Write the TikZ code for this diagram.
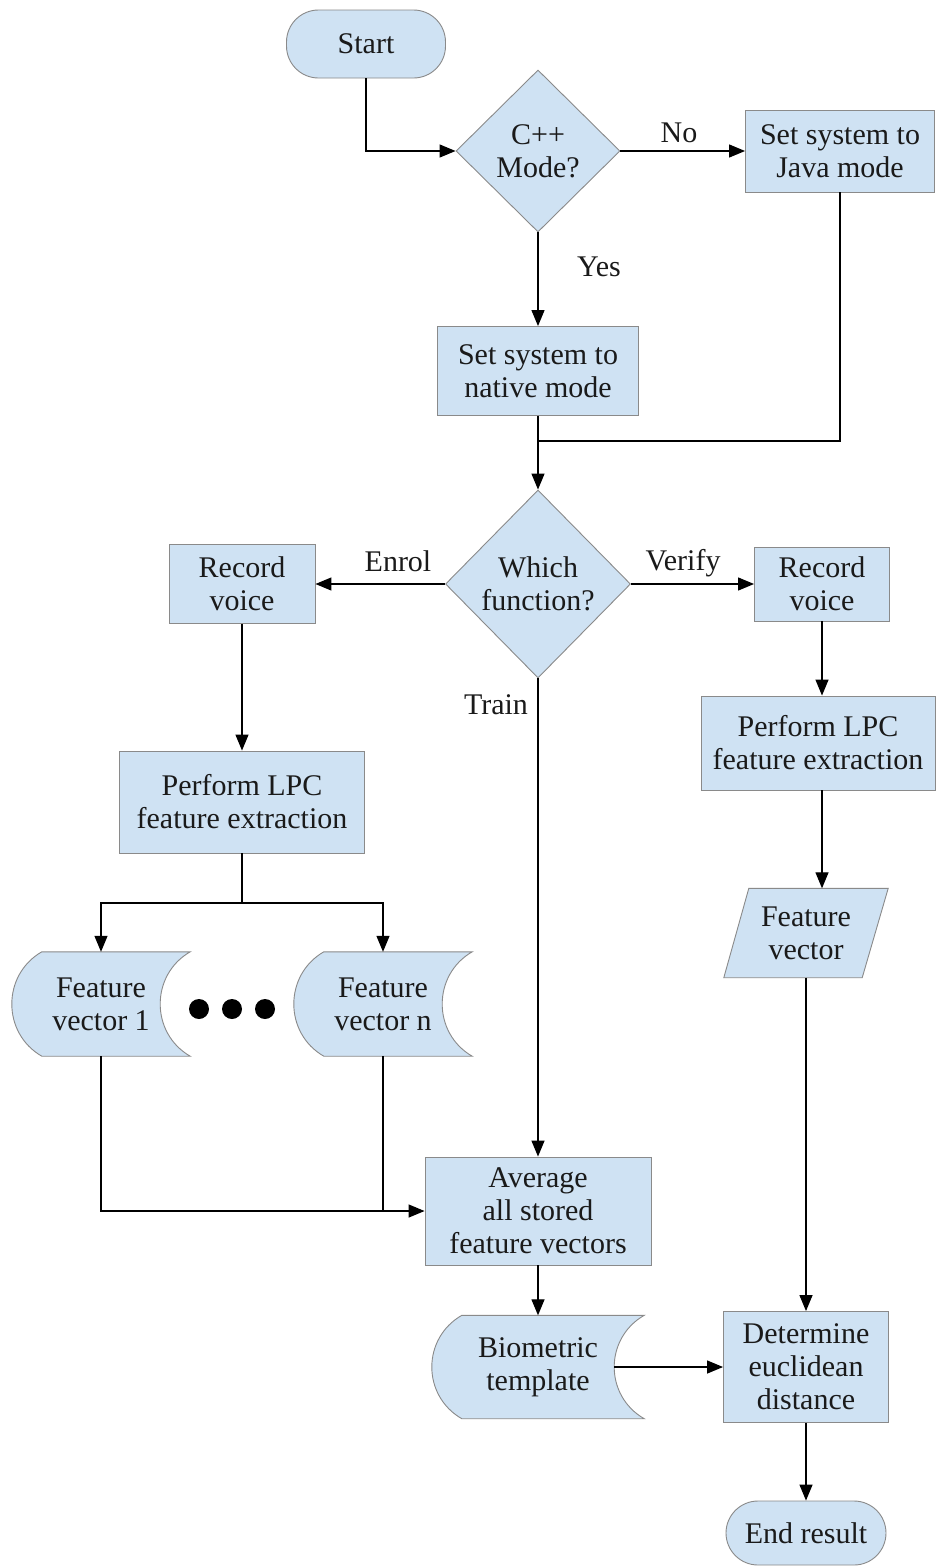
\documentclass[tikz,border=0pt]{standalone}
\usepackage{fontspec}
\setmainfont{Liberation Serif}
\usetikzlibrary{arrows.meta,shapes.geometric,calc,backgrounds}

\definecolor{boxfill}{HTML}{CFE2F3}
\definecolor{boxline}{HTML}{8A8A8A}
\definecolor{ink}{HTML}{1A1A1A}

\tikzset{
  x=1pt, y=-1pt,
  every node/.style={font=\fontsize{30}{33}\selectfont, text=ink, align=center, inner sep=0pt},
  procbox/.style={draw=boxline, fill=boxfill, line width=0.9pt, rectangle},
  termbox/.style={draw=boxline, fill=boxfill, line width=0.9pt, rectangle, rounded corners=32pt},
  decbox/.style={draw=boxline, fill=boxfill, line width=0.9pt, diamond, aspect=1},
  shapeline/.style={draw=boxline, fill=boxfill, line width=0.9pt},
  conn/.style={draw=black, line width=1.3pt},
  arr/.style={conn, -{Triangle[length=16pt,width=13pt]}},
  lbl/.style={fill=none}
}

% outline of a stored-data symbol around a text-only node
\newcommand\storedshape[1]{%
  \path[shapeline] ([xshift=30pt]#1.north west) -- (#1.north east)
    .. controls ([xshift=-40pt,yshift=-23pt]#1.north east) and ([xshift=-40pt,yshift=23pt]#1.south east) .. (#1.south east)
    -- ([xshift=30pt]#1.south west)
    .. controls ([xshift=-10pt,yshift=23pt]#1.south west) and ([xshift=-10pt,yshift=-23pt]#1.north west) .. cycle;}

\begin{document}
\begin{tikzpicture}
\useasboundingbox (0,0) rectangle (935,1566);

% top part
\node[termbox, minimum width=159pt, minimum height=68pt] (start) at (366,44) {Start};
\node[decbox, minimum width=164pt, minimum height=162pt] (cpp) at (538,151) {C++\\Mode?};
\node[procbox, minimum width=189pt, minimum height=82pt] (java) at (840,151) {Set system to\\Java mode};
\node[procbox, minimum width=201pt, minimum height=89pt] (native) at (538,371) {Set system to\\native mode};
\node[decbox, minimum width=185pt, minimum height=188pt] (which) at (538,584) {Which\\function?};

\node[lbl] (lno) at (679,133) {No};
\node[lbl] (lyes) at (599,267) {Yes};
\node[lbl] (lenrol) at (398,561) {Enrol};
\node[lbl] (lverify) at (683,563) {Verify};
\node[lbl] (ltrain) at (496,705) {Train};

% enrolment branch
\node[procbox, minimum width=146pt, minimum height=79pt] (recL) at (242,584) {Record\\voice};
\node[procbox, minimum width=245pt, minimum height=102pt] (lpcL) at (242,802) {Perform LPC\\feature extraction};
\node[minimum width=178pt, minimum height=104pt] (fva) at (101,1004) {Feature\\vector 1};
\node[minimum width=178pt, minimum height=104pt] (fvn) at (383,1004) {Feature\\vector n};
\fill[black] (199,1009) circle (10pt) (232,1009) circle (10pt) (265,1009) circle (10pt);

% training branch
\node[procbox, minimum width=226pt, minimum height=108pt] (avg) at (538,1211) {Average\\all stored\\feature vectors};
\node[minimum width=212pt, minimum height=103pt] (bio) at (538,1367) {Biometric\\template};

% verification branch
\node[procbox, minimum width=135pt, minimum height=74pt] (recR) at (822,584) {Record\\voice};
\node[procbox, minimum width=234pt, minimum height=94pt] (lpcR) at (818,743) {Perform LPC\\feature extraction};
\node[minimum width=164pt, minimum height=89pt] (fv) at (806,933) {Feature\\vector};
\node[procbox, minimum width=165pt, minimum height=111pt] (det) at (806,1367) {Determine\\euclidean\\distance};
\node[termbox, minimum width=160pt, minimum height=64pt] (end) at (806,1533) {End result};

% page background and outlines of the text-only symbols
\begin{scope}[on background layer]
  \fill[white] (0,0) rectangle (935,1566);
  \storedshape{fva}
  \storedshape{fvn}
  \storedshape{bio}
  \path[shapeline] ([xshift=25pt]fv.north west) -- (fv.north east)
    -- ([xshift=-26pt]fv.south east) -- (fv.south west) -- cycle;
\end{scope}

% connectors
\draw[arr] (start.south) |- (cpp.west);
\draw[arr] (cpp.east) -- (java.west);
\draw[arr] (cpp.south) -- (native.north);
\coordinate (join1) at (538,441);
\draw[conn] (java.south) |- (join1);
\draw[arr] (native.south) -- (which.north);
\draw[arr] (which.west) -- (recL.east);
\draw[arr] (which.east) -- (recR.west);
\draw[arr] (which.south) -- (avg.north);

\draw[arr] (recL.south) -- (lpcL.north);
\coordinate (split) at (242,903);
\draw[conn] (lpcL.south) -- (split);
\draw[arr] (split) -| (fva.north);
\draw[arr] (split) -| (fvn.north);
\draw[arr] (fva.south) |- (avg.west);
\draw[conn] (fvn.south) -- (fvn.south |- avg.west);

\draw[arr] (avg.south) -- (bio.north);
\coordinate (bioin) at ([xshift=-30pt]bio.east);
\draw[arr] (bioin) -- (det.west);

\draw[arr] (recR.south) -- (recR.south |- lpcR.north);
\draw[arr] (recR.south |- lpcR.south) -- (recR.south |- fv.north);
\draw[arr] (fv.south) -- (det.north);
\draw[arr] (det.south) -- (end.north);
\end{tikzpicture}
\end{document}
